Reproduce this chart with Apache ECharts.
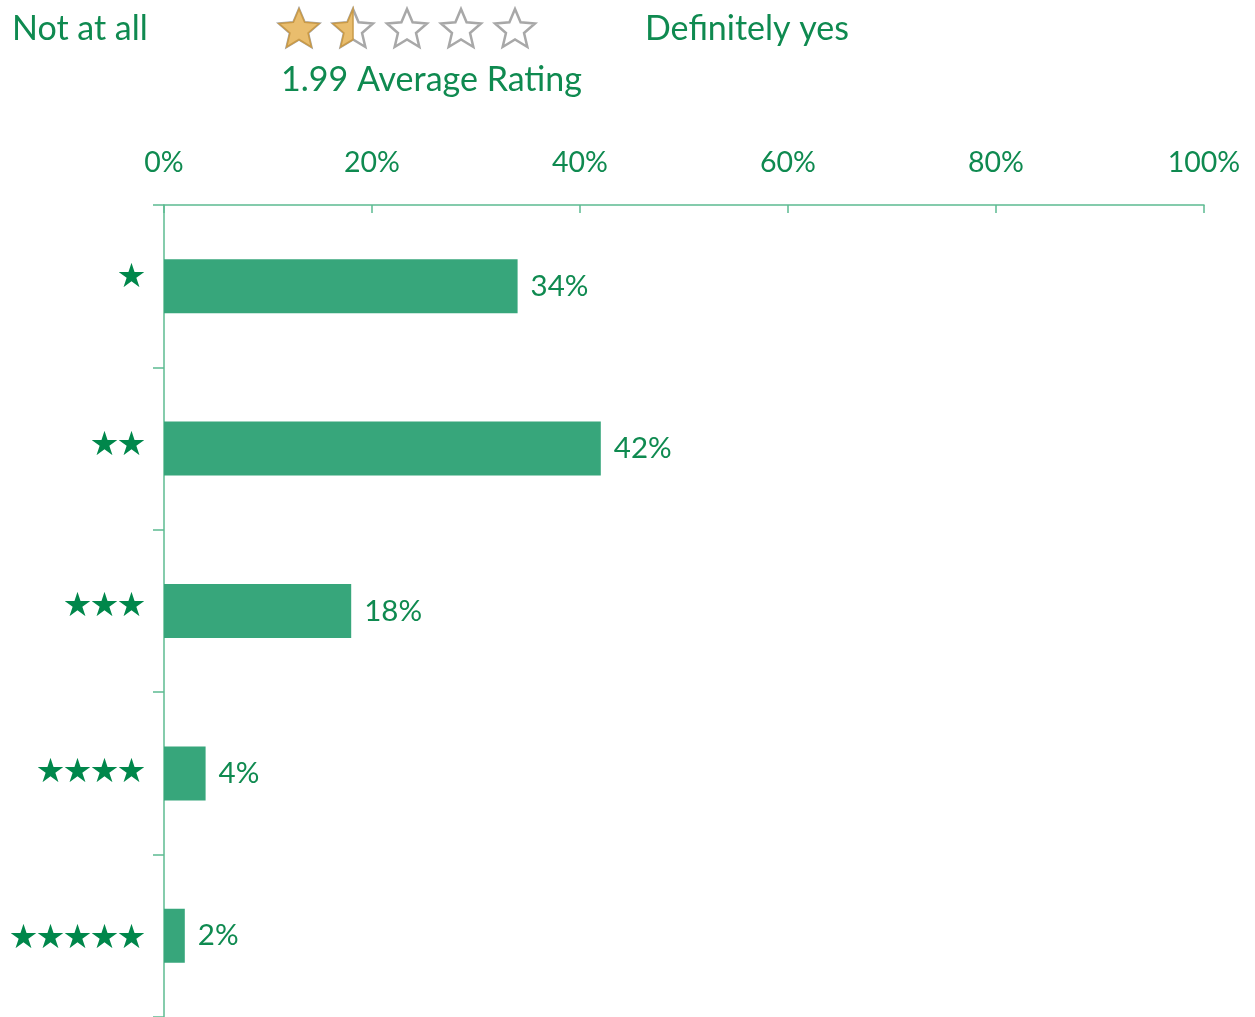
<!DOCTYPE html>
<html>
<head>
<meta charset="utf-8">
<script src="https://cdn.jsdelivr.net/npm/echarts@6/dist/echarts.min.js"></script>
<style>
  html, body { margin: 0; padding: 0; background: #ffffff; }
  #chart { width: 1255px; height: 1017px; }
</style>
</head>
<body>
<div id="chart"></div>
<script>
// Rating categories (1 to 5 stars) and share of responses per rating, in %
const categories = ['★', '★★', '★★★', '★★★★', '★★★★★'];
const shares = [34, 42, 18, 4, 2];
const axisTicks = [0, 20, 40, 60, 80, 100];
const averageRating = 1.99;

const GREEN_TEXT = '#0f8a50';
const GREEN_BAR = '#37a67b';
const GREEN_AXIS = '#5cbb91';
const GREEN_STAR = '#00874b';
const FONT = 'Lato, "Open Sans", sans-serif';
const STAR_FONT = '"Noto Sans CJK SC", sans-serif';

// Five-pointed star polygon around (cx, cy)
function starPoints(cx, cy, R, r) {
  const pts = [];
  for (let i = 0; i < 10; i++) {
    const rad = i % 2 === 0 ? R : r;
    const a = (-90 + i * 36) * Math.PI / 180;
    pts.push([cx + rad * Math.cos(a), cy + rad * Math.sin(a)]);
  }
  return pts;
}
// Part of a star lying left of the vertical line x = xCut
function starClipLeft(cx, cy, R, r, xCut) {
  const pts = starPoints(cx, cy, R, r);
  const out = [];
  for (let i = 0; i < pts.length; i++) {
    const a = pts[i], b = pts[(i + 1) % pts.length];
    const ain = a[0] <= xCut, bin = b[0] <= xCut;
    if (ain) out.push(a);
    if (ain !== bin) {
      const t = (xCut - a[0]) / (b[0] - a[0]);
      out.push([xCut, a[1] + t * (b[1] - a[1])]);
    }
  }
  return out;
}

// Header rating stars: full, half (for the fractional part), then empty
const ratingStars = [];
const starXs = [299, 353, 407, 461, 515];
const SR = 21, Sr = 9.5, SY = 30;
starXs.forEach(function (x, i) {
  const part = averageRating - i;
  ratingStars.push({
    type: 'polygon',
    shape: { points: starPoints(x, SY, SR, Sr) },
    style: { fill: '#ffffff', stroke: '#a8a8a8', lineWidth: 2.5 }
  });
  if (part >= 1.5) {
    ratingStars.push({
      type: 'polygon',
      shape: { points: starPoints(x, SY, SR, Sr) },
      style: { fill: '#e9bd6d', stroke: '#c99a48', lineWidth: 1.5 }
    });
  } else if (part > 0) {
    ratingStars.push({
      type: 'polygon',
      shape: { points: starClipLeft(x, SY, SR, Sr, x) },
      style: { fill: '#e9bd6d', stroke: '#c99a48', lineWidth: 1.5 }
    });
  }
});

// Star labels sit a little above their bars, more so for the top rows
const starLift = [22, 12, 14, 7, 1];
const starRich = {};
starLift.forEach(function (p, i) {
  starRich['s' + i] = {
    fontFamily: STAR_FONT, fontSize: 27, lineHeight: 27,
    color: GREEN_STAR, padding: [0, 0, p, 0]
  };
});

const chart = echarts.init(document.getElementById('chart'), null, { renderer: 'canvas' });
chart.setOption({
  backgroundColor: '#ffffff',
  animation: false,
  grid: { left: 164, right: 51, top: 205, bottom: 0, containLabel: false },
  xAxis: {
    type: 'value',
    position: 'top',
    min: 0,
    max: 100,
    interval: 20,
    splitLine: { show: false },
    axisLine: { show: true, lineStyle: { color: GREEN_AXIS, width: 1.5 } },
    axisTick: { show: true, inside: true, length: 8, lineStyle: { color: GREEN_AXIS, width: 1.5 } },
    axisLabel: {
      margin: 28,
      color: GREEN_TEXT,
      fontFamily: FONT,
      fontSize: 28.5,
      formatter: function (v) { return axisTicks.indexOf(v) >= 0 ? v + '%' : ''; }
    }
  },
  yAxis: {
    type: 'category',
    inverse: true,
    data: categories,
    axisLine: { show: true, lineStyle: { color: GREEN_AXIS, width: 1.5 } },
    axisTick: { show: true, alignWithLabel: false, length: 11, lineStyle: { color: GREEN_AXIS, width: 1.5 } },
    axisLabel: {
      margin: 19,
      color: GREEN_STAR,
      fontFamily: STAR_FONT,
      fontSize: 27,
      formatter: function (v, i) { return '{s' + i + '|' + v + '}'; },
      rich: starRich
    }
  },
  series: [{
    type: 'bar',
    data: shares,
    barWidth: 54,
    itemStyle: { color: GREEN_BAR },
    label: {
      show: true,
      position: 'right',
      distance: 13,
      color: GREEN_TEXT,
      fontFamily: FONT,
      fontSize: 29.5,
      formatter: function (p) { return p.value + '%'; }
    }
  }],
  graphic: [
    { type: 'text', left: 12, top: 12, style: { text: 'Not at all', fill: GREEN_TEXT, font: '34px ' + FONT } },
    { type: 'text', left: 645, top: 12, style: { text: 'Definitely yes', fill: GREEN_TEXT, font: '34px ' + FONT } },
    { type: 'text', left: 281, top: 63, style: { text: averageRating.toFixed(2) + ' Average Rating', fill: GREEN_TEXT, font: '34px ' + FONT } }
  ].concat(ratingStars)
});
</script>
</body>
</html>
